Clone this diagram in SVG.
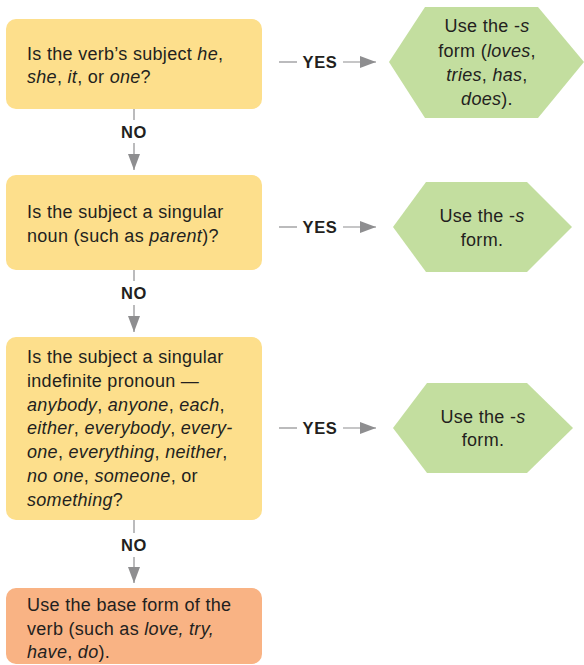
<svg xmlns="http://www.w3.org/2000/svg" width="584" height="665" viewBox="0 0 584 665">
  <style>
    .q { fill: #FDDF8C; }
    .end { fill: #F9B384; }
    .ans { fill: #C3DE9F; }
    .t { font-family: "Liberation Sans", Arial, Helvetica, sans-serif; font-size: 18px; letter-spacing: 0.3px; fill: #231F20; }
    .m { text-anchor: middle; }
    .i { font-style: italic; }
    .lbl { font-family: "Liberation Sans", Arial, Helvetica, sans-serif; font-size: 16.5px; font-weight: bold; letter-spacing: 0.6px; fill: #231F20; text-anchor: middle; }
    .ln { stroke: #8E8E90; stroke-width: 1.2; fill: none; }
  </style>
  <defs>
    <marker id="head" markerUnits="userSpaceOnUse" markerWidth="17" markerHeight="12" refX="16" refY="6" orient="auto">
      <path d="M0,0 L16,6 L0,12 Z" fill="#8E8E90"/>
    </marker>
  </defs>

  <!-- question 1 -->
  <g id="q1">
    <rect class="q" x="6" y="19" width="256" height="90" rx="10"/>
    <text class="t" x="27" y="60">Is the verb’s subject <tspan class="i">he</tspan>,</text>
    <text class="t" x="27" y="83"><tspan class="i">she</tspan>, <tspan class="i">it</tspan>, or <tspan class="i">one</tspan>?</text>
  </g>

  <!-- answer 1 -->
  <g id="a1">
    <polygon class="ans" points="389,62 425,7 538,7 584,62 538,118 425,118"/>
    <text class="t m" x="487" y="32">Use the -<tspan class="i">s</tspan></text>
    <text class="t m" x="487" y="57">form (<tspan class="i">loves</tspan>,</text>
    <text class="t m" x="487" y="81"><tspan class="i">tries</tspan>, <tspan class="i">has</tspan>,</text>
    <text class="t m" x="487" y="105"><tspan class="i">does</tspan>).</text>
  </g>

  <!-- question 2 -->
  <g id="q2">
    <rect class="q" x="6" y="175" width="256" height="95" rx="10"/>
    <text class="t" x="27" y="218">Is the subject a singular</text>
    <text class="t" x="27" y="242">noun (such as <tspan class="i">parent</tspan>)?</text>
  </g>

  <!-- answer 2 -->
  <g id="a2">
    <polygon class="ans" points="393,227 426,182 527,182 572,227 527,272 426,272"/>
    <text class="t m" x="482" y="222">Use the -<tspan class="i">s</tspan></text>
    <text class="t m" x="482" y="246">form.</text>
  </g>

  <!-- question 3 -->
  <g id="q3">
    <rect class="q" x="6" y="337" width="256" height="183" rx="10"/>
    <text class="t" x="27" y="363">Is the subject a singular</text>
    <text class="t" x="27" y="387">indefinite pronoun —</text>
    <text class="t" x="27" y="411"><tspan class="i">anybody</tspan>, <tspan class="i">anyone</tspan>, <tspan class="i">each</tspan>,</text>
    <text class="t" x="27" y="434"><tspan class="i">either</tspan>, <tspan class="i">everybody</tspan>, <tspan class="i">every-</tspan></text>
    <text class="t" x="27" y="458"><tspan class="i">one</tspan>, <tspan class="i">everything</tspan>, <tspan class="i">neither</tspan>,</text>
    <text class="t" x="27" y="482"><tspan class="i">no one</tspan>, <tspan class="i">someone</tspan>, or</text>
    <text class="t" x="27" y="506"><tspan class="i">something</tspan>?</text>
  </g>

  <!-- answer 3 -->
  <g id="a3">
    <polygon class="ans" points="393,428 427,383 527,383 573,428 527,473 427,473"/>
    <text class="t m" x="483" y="423">Use the -<tspan class="i">s</tspan></text>
    <text class="t m" x="483" y="446">form.</text>
  </g>

  <!-- final outcome -->
  <g id="q4">
    <rect class="end" x="6" y="588" width="256" height="76" rx="10"/>
    <text class="t" x="27" y="611">Use the base form of the</text>
    <text class="t" x="27" y="635">verb (such as <tspan class="i">love, try,</tspan></text>
    <text class="t" x="27" y="658"><tspan class="i">have</tspan>, <tspan class="i">do</tspan>).</text>
  </g>

  <!-- connectors -->
  <g id="connectors">
    <!-- YES branches -->
    <line class="ln" x1="279" y1="62" x2="297" y2="62"/>
    <text class="lbl" x="320" y="68">YES</text>
    <line class="ln" x1="343" y1="62" x2="376" y2="62" marker-end="url(#head)"/>

    <line class="ln" x1="279" y1="227" x2="297" y2="227"/>
    <text class="lbl" x="320" y="233">YES</text>
    <line class="ln" x1="343" y1="227" x2="376" y2="227" marker-end="url(#head)"/>

    <line class="ln" x1="279" y1="428" x2="297" y2="428"/>
    <text class="lbl" x="320" y="434">YES</text>
    <line class="ln" x1="343" y1="428" x2="376" y2="428" marker-end="url(#head)"/>

    <!-- NO branches -->
    <line class="ln" x1="134" y1="109" x2="134" y2="120"/>
    <text class="lbl" x="134" y="138">NO</text>
    <line class="ln" x1="134" y1="143" x2="134" y2="170" marker-end="url(#head)"/>

    <line class="ln" x1="134" y1="270" x2="134" y2="281"/>
    <text class="lbl" x="134" y="299">NO</text>
    <line class="ln" x1="134" y1="305" x2="134" y2="332" marker-end="url(#head)"/>

    <line class="ln" x1="134" y1="520" x2="134" y2="533"/>
    <text class="lbl" x="134" y="551">NO</text>
    <line class="ln" x1="134" y1="557" x2="134" y2="583" marker-end="url(#head)"/>
  </g>
</svg>
